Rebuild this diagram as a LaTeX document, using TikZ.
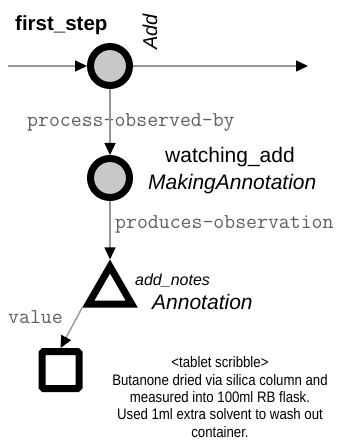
\documentclass[tikz,border=0pt]{standalone}
\usepackage{fontspec}
\setmainfont{Liberation Sans}
\definecolor{StepGrey}{RGB}{200,200,200}
\definecolor{LinkGrey}{RGB}{150,150,150}
\definecolor{RoleGrey}{RGB}{95,95,95}
\usetikzlibrary{arrows.meta, shapes.geometric, positioning}

\begin{document}
\begin{tikzpicture}[x=1pt, y=-1pt,
    procnode/.style={circle, draw=black, fill=StepGrey, line width=7pt,
                     minimum size=39pt, inner sep=0pt},
    entnode/.style={regular polygon, regular polygon sides=3, draw=black,
                    fill=white, line width=7pt, minimum size=50pt, inner sep=0pt},
    valnode/.style={rectangle, draw=black, fill=white, line width=7pt,
                    rounded corners=1.5pt, minimum size=37pt, inner sep=0pt},
    link/.style={draw=LinkGrey, line width=1.4pt,
                 -{Triangle[length=12pt, width=11pt, color=black]}},
    rolelabel/.style={font=\ttfamily\fontsize{21.2}{24}\selectfont,
                      text=RoleGrey, inner sep=0pt, anchor=base west},
    namelabel/.style={font=\fontsize{21}{24}\selectfont, inner sep=0pt, anchor=base west},
    typelabel/.style={font=\itshape\fontsize{21}{24}\selectfont, inner sep=0pt, anchor=base west}]
  \useasboundingbox (0,0) rectangle (341,443);

  % nodes
  \node[procnode] (first) at (110,66) {};
  \node[procnode] (watch) at (110,178) {};
  \node[entnode]  (notes) at (110,291.5) {};
  \node[valnode]  (scribble) at (60.5,370) {};
  \coordinate (in)  at (8,66);
  \coordinate (out) at (308,66);

  % labels
  \node[namelabel, font=\bfseries\fontsize{20.5}{24}\selectfont] (firstname) at (15,31) {first\_step};
  \node[typelabel, font=\itshape\fontsize{20}{24}\selectfont, rotate=90, anchor=base] (firsttype) at (157,32) {Add};
  \node[namelabel] (watchname) at (165,163) {watching\_add};
  \node[typelabel] (watchtype) at (148,190) {MakingAnnotation};
  \node[typelabel, font=\itshape\fontsize{16}{18}\selectfont] (notesname) at (135,285) {add\_notes};
  \node[typelabel] (notestype) at (152,309) {Annotation};
  \node[rolelabel] (observedby) at (27,127) {process-observed-by};
  \node[rolelabel] (produces) at (115,228) {produces-observation};
  \node[rolelabel] (valuerole) at (8,323) {value};
  \node[align=center, inner sep=0pt,
        font=\fontsize{15.2}{17.4}\selectfont\addfontfeature{FakeStretch=0.87}] (scribbletext) at (220,397)
    {<tablet scribble>\\
     Butanone dried via silica column and\\
     measured into 100ml RB flask.\\
     Used 1ml extra solvent to wash out\\
     container.};

  % links
  \draw[link] (in) -- (first);
  \draw[link] (first) -- (out);
  \draw[link] (first) -- (watch);
  \draw[link] (watch) -- (notes);
  \draw[link] (notes.corner 2) -- (scribble.north);
\end{tikzpicture}
\end{document}
